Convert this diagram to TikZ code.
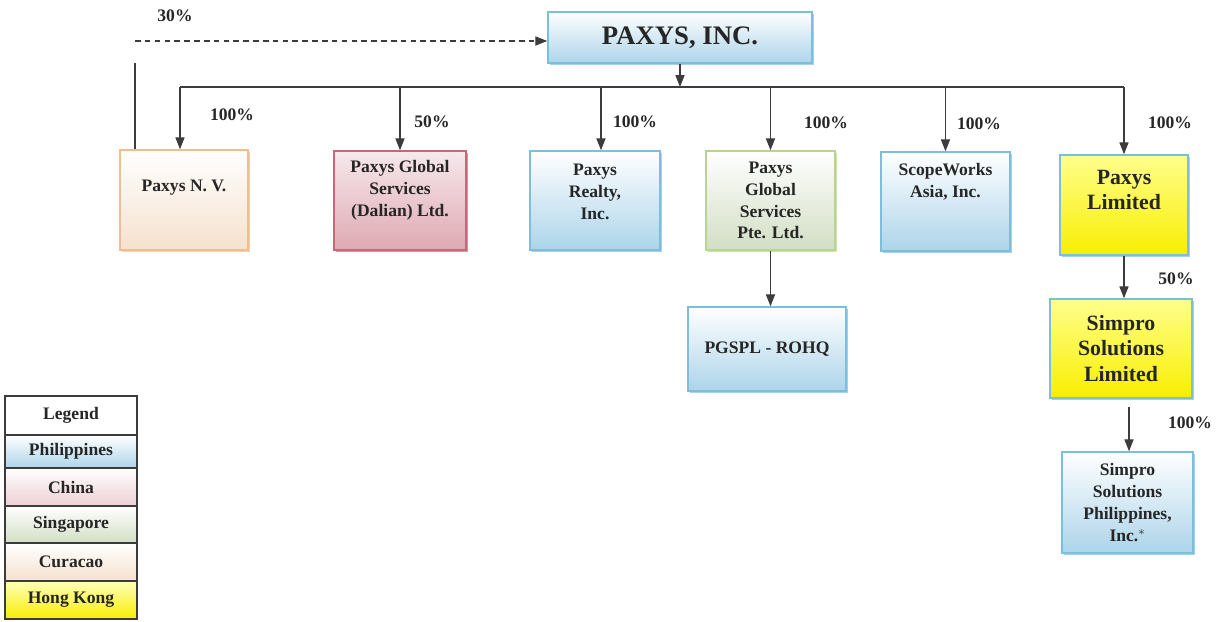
\documentclass[tikz,border=0pt]{standalone}
\usepackage{fontspec}
\setmainfont{Liberation Serif}
\usepackage{tikz}
\usetikzlibrary{arrows.meta,shadows}
\usepackage{xcolor}
\definecolor{pxline}{RGB}{60,60,60}
\definecolor{pxblue}{RGB}{125,190,220}
\definecolor{pxbluefill}{RGB}{172,212,234}
\definecolor{pxred}{RGB}{195,105,120}
\definecolor{pxredfill}{RGB}{222,168,178}
\definecolor{pxgreen}{RGB}{185,212,140}
\definecolor{pxgreenfill}{RGB}{210,222,196}
\definecolor{pxorange}{RGB}{240,190,140}
\definecolor{pxorangefill}{RGB}{245,225,205}
\definecolor{pxyellow}{RGB}{248,238,0}
\definecolor{pxyellowtop}{RGB}{255,255,140}
\tikzstyle{arrow} = [line width=0.8pt, color=pxline, -{Triangle[length=8.5pt,width=6.5pt]}]
\tikzstyle{link} = [line width=0.8pt, color=pxline]
\tikzstyle{company} = [rectangle, inner sep=0pt, line width=1pt, text=black!85, font=\bfseries\fontsize{12.5}{15.5}\selectfont, align=center]
\tikzstyle{inside} = [text=black!85, font=\bfseries\fontsize{12.5}{15.5}\selectfont, align=center]
\tikzstyle{bigger} = [font=\bfseries\fontsize{15.5}{18}\selectfont]
\tikzstyle{phil} = [company, draw=pxblue, top color=white, bottom color=pxbluefill, drop shadow={shadow xshift=1.5pt, shadow yshift=-1.5pt, fill=pxblue, opacity=0.7}]
\tikzstyle{china} = [company, draw=pxred, top color=pxredfill!25, bottom color=pxredfill, drop shadow={shadow xshift=1.5pt, shadow yshift=-1.5pt, fill=pxred, opacity=0.7}]
\tikzstyle{sing} = [company, draw=pxgreen, top color=white, bottom color=pxgreenfill, drop shadow={shadow xshift=1.5pt, shadow yshift=-1.5pt, fill=pxgreen, opacity=0.7}]
\tikzstyle{cura} = [company, draw=pxorange, top color=white, bottom color=pxorangefill, drop shadow={shadow xshift=1.5pt, shadow yshift=-1.5pt, fill=pxorange, opacity=0.7}]
\tikzstyle{hk} = [company, draw=pxblue, top color=pxyellowtop, bottom color=pxyellow, drop shadow={shadow xshift=1.5pt, shadow yshift=-1.5pt, fill=pxblue, opacity=0.7}]
\tikzstyle{pct} = [text=black!85, font=\bfseries\fontsize{12.5}{14}\selectfont]
\tikzstyle{legend} = [rectangle, draw=pxline, line width=0.8pt, inner sep=0pt, minimum width=3.3cm, text=black!85, font=\bfseries\fontsize{12.5}{15}\selectfont]

\begin{document}
\begin{tikzpicture}[x=0.025cm, y=-0.025cm]
\useasboundingbox (0,0) rectangle (1218,621);

% Parent
\node[phil, minimum width=6.6cm, minimum height=1.275cm, font=\bfseries\fontsize{19}{22}\selectfont] (paxys) at (680,37.5) {PAXYS, INC.};

% Subsidiaries
\node[cura, minimum width=3.2cm, minimum height=2.5cm, label={[inside, yshift=8.5pt]center:{Paxys N. V.}}] (nv) at (184,200) {};
\node[china, minimum width=3.3cm, minimum height=2.475cm, label={[inside, yshift=7.4pt]center:{Paxys Global\\Services\\(Dalian) Ltd.}}] (dalian) at (400,200.5) {};
\node[phil, minimum width=3.25cm, minimum height=2.475cm, label={[inside, yshift=6pt]center:{Paxys\\Realty,\\Inc.}}] (realty) at (595,200.5) {};
\node[sing, minimum width=3.225cm, minimum height=2.475cm] (pte) at (770.5,200.5) {Paxys\\Global\\Services\\Pte. Ltd.};
\node[phil, minimum width=3.225cm, minimum height=2.475cm, label={[inside, yshift=13.8pt]center:{ScopeWorks\\Asia, Inc.}}] (scope) at (945.5,201.5) {};
\node[hk, minimum width=3.2cm, minimum height=2.5cm, label={[inside, bigger, yshift=10.6pt]center:{Paxys\\Limited}}] (limited) at (1124,205) {};

% Lower levels
\node[phil, minimum width=3.95cm, minimum height=2.1cm] (rohq) at (767,349) {PGSPL - ROHQ};
\node[hk, bigger, minimum width=3.55cm, minimum height=2.475cm] (simlim) at (1121,348.5) {Simpro\\Solutions\\Limited};
\node[phil, minimum width=3.275cm, minimum height=2.525cm] (simph) at (1127.5,502.5) {Simpro\\Solutions\\Philippines,\\Inc.$^{*}$};

% Arrows
\coordinate (bus) at (680,87);
\coordinate (nvdrop) at (180,87);
\coordinate (realtydrop) at (601,87);
\draw[arrow] (paxys.south) -- (bus);
\draw[link] (nvdrop) -- (limited.north |- bus);
\draw[arrow] (nvdrop) -- (nvdrop |- nv.north);
\draw[arrow] (dalian.north |- bus) -- (dalian.north);
\draw[arrow] (realtydrop) -- (realtydrop |- realty.north);
\draw[arrow] (pte.north |- bus) -- (pte.north);
\draw[arrow] (scope.north |- bus) -- (scope.north);
\draw[arrow] (limited.north |- bus) -- (limited.north);
\draw[arrow] (pte.south) -- (rohq.north -| pte.south);
\draw[arrow] (limited.south) -- (simlim.north -| limited.south);
\coordinate (simgap) at (1129,407);
\draw[arrow] (simgap) -- (simgap |- simph.north);

% Cross holding
\coordinate (nvtop) at (135,63);
\coordinate (dash) at (135,41);
\draw[link] (nvtop) -- (nvtop |- nv.north);
\draw[arrow, dash pattern=on 4pt off 3pt] (dash) -- (dash -| paxys.west);

% Shares
\node[pct] (p30) at (175,16) {30\%};
\node[pct] (pnv) at (232,115) {100\%};
\node[pct] (pdalian) at (432,122) {50\%};
\node[pct] (prealty) at (635,122) {100\%};
\node[pct] (ppte) at (826,123) {100\%};
\node[pct] (pscope) at (979,124) {100\%};
\node[pct] (plimited) at (1170,123) {100\%};
\node[pct] (psimlim) at (1176,279) {50\%};
\node[pct] (psimph) at (1190,423) {100\%};

% Legend
\node[legend, fill=white, minimum height=0.975cm] (lhead) at (71,415.5) {Legend};
\node[legend, top color=white, bottom color=pxbluefill, minimum height=0.825cm] (lphil) at (71,451.5) {Philippines};
\node[legend, top color=white, bottom color=pxredfill!55, minimum height=0.95cm] (lchina) at (71,487) {China};
\node[legend, top color=white, bottom color=pxgreenfill, minimum height=0.925cm] (lsing) at (71,524.5) {Singapore};
\node[legend, top color=white, bottom color=pxorangefill, minimum height=0.95cm] (lcura) at (71,562) {Curacao};
\node[legend, top color=pxyellowtop!60, bottom color=pxyellow, minimum height=0.95cm] (lhk) at (71,600) {Hong Kong};
\end{tikzpicture}
\end{document}
